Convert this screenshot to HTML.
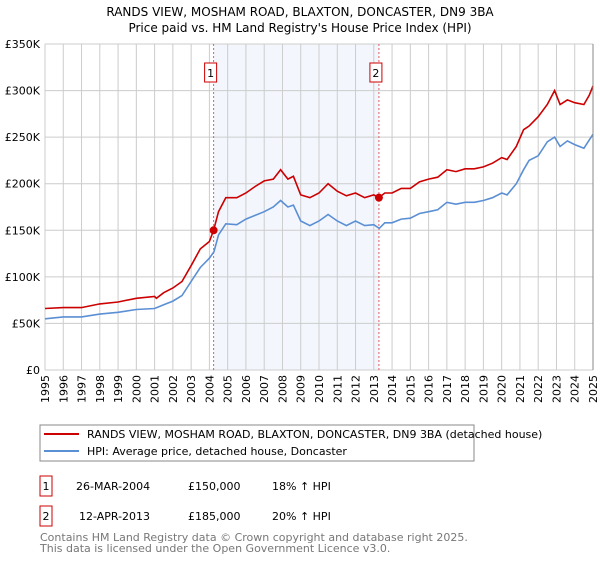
<!DOCTYPE html>
<html><head><meta charset="utf-8"><style>
body{margin:0;background:#fff;font-family:"Liberation Sans","DejaVu Sans",sans-serif;}
svg text{font-family:"DejaVu Sans","Liberation Sans",sans-serif;}
</style></head><body>
<svg width="600" height="560" viewBox="0 0 600 560">
<text x="300" y="16" text-anchor="middle" font-size="12">RANDS VIEW, MOSHAM ROAD, BLAXTON, DONCASTER, DN9 3BA</text>
<text x="300" y="32" text-anchor="middle" font-size="12">Price paid vs. HM Land Registry's House Price Index (HPI)</text>
<g id="plot"></g>
<rect x="40" y="425" width="434" height="36" fill="#fff" stroke="#888"/>
<line x1="44" y1="434" x2="79" y2="434" stroke="#cc0000" stroke-width="2"/>
<text x="87" y="438" font-size="11">RANDS VIEW, MOSHAM ROAD, BLAXTON, DONCASTER, DN9 3BA (detached house)</text>
<line x1="44" y1="451" x2="79" y2="451" stroke="#5b8fd4" stroke-width="2"/>
<text x="87" y="455" font-size="11">HPI: Average price, detached house, Doncaster</text>
<rect x="40" y="476" width="12" height="20" fill="#fff" stroke="#cc0000"/>
<text x="46" y="490" font-size="11" text-anchor="middle">1</text>
<text x="76" y="490" font-size="11">26-MAR-2004</text>
<text x="188" y="490" font-size="11">£150,000</text>
<text x="272" y="490" font-size="11">18% ↑ HPI</text>
<rect x="40" y="506" width="12" height="20" fill="#fff" stroke="#cc0000"/>
<text x="46" y="520" font-size="11" text-anchor="middle">2</text>
<text x="79" y="520" font-size="11">12-APR-2013</text>
<text x="188" y="520" font-size="11">£185,000</text>
<text x="272" y="520" font-size="11">20% ↑ HPI</text>
<text x="40" y="541" font-size="11" fill="#777">Contains HM Land Registry data © Crown copyright and database right 2025.</text>
<text x="40" y="552" font-size="11" fill="#777">This data is licensed under the Open Government Licence v3.0.</text>
</svg>
<script>
const hpiYears=[1995,1996,1997,1998,1999,2000,2001,2001.5,2002,2002.5,2003,2003.5,2004,2004.25,2004.5,2004.9,2005.5,2006,2006.5,2007,2007.5,2007.9,2008.3,2008.6,2009,2009.5,2010,2010.5,2011,2011.5,2012,2012.5,2013,2013.3,2013.6,2014,2014.5,2015,2015.5,2016,2016.5,2017,2017.5,2018,2018.5,2019,2019.5,2020,2020.3,2020.8,2021.2,2021.5,2022,2022.5,2022.9,2023.2,2023.6,2024,2024.5,2024.8,2025];
const hpiValues=[55,57,57,60,62,65,66,70,74,80,95,110,120,127,145,157,156,162,166,170,175,182,175,177,160,155,160,167,160,155,160,155,156,152,158,158,162,163,168,170,172,180,178,180,180,182,185,190,188,200,215,225,230,245,250,240,246,242,238,247,253];
const propYears=[1995,1996,1997,1998,1999,2000,2001,2001.1,2001.5,2002,2002.5,2003,2003.5,2004,2004.23,2004.5,2004.9,2005.5,2006,2006.5,2007,2007.5,2007.9,2008.3,2008.6,2009,2009.5,2010,2010.5,2011,2011.5,2012,2012.5,2013,2013.28,2013.6,2014,2014.5,2015,2015.5,2016,2016.5,2017,2017.5,2018,2018.5,2019,2019.5,2020,2020.3,2020.8,2021.2,2021.5,2022,2022.5,2022.9,2023.2,2023.6,2024,2024.5,2024.8,2025];
const propValues=[66,67,67,71,73,77,79,77,83,88,95,112,130,138,150,170,185,185,190,197,203,205,215,205,208,188,185,190,200,192,187,190,185,188,185,190,190,195,195,202,205,207,215,213,216,216,218,222,228,226,240,258,262,272,285,300,285,290,287,285,295,305];
const saleYears=[2004.23,2013.28];
const saleValues=[150,185];
const saleLabels=["1","2"];
const yTicks=[0,50,100,150,200,250,300,350];
const yTickLabels=["£0","£50K","£100K","£150K","£200K","£250K","£300K","£350K"];
const xTicks=[1995,1996,1997,1998,1999,2000,2001,2002,2003,2004,2005,2006,2007,2008,2009,2010,2011,2012,2013,2014,2015,2016,2017,2018,2019,2020,2021,2022,2023,2024,2025];

const NS="http://www.w3.org/2000/svg";
const X0=45,X1=593,Y0=370,Y1=44;
const xs=v=>X0+(v-1995)/30*(X1-X0);
const ys=v=>Y0-v/350*(Y0-Y1);
const g=document.getElementById('plot');
function mk(t,a){const e=document.createElementNS(NS,t);for(const k in a)e.setAttribute(k,a[k]);g.appendChild(e);return e;}
let sh=mk('rect',{x:xs(saleYears[0]),y:Y1,width:xs(saleYears[1])-xs(saleYears[0]),height:Y0-Y1,fill:'#eef3fc',opacity:0.7});


yTicks.forEach((t,i)=>{
 let l=mk('line',{x1:X0,x2:X1,y1:ys(t),y2:ys(t),stroke:'#ccc'});
 
 
 let tx=mk('text',{x:40,y:ys(t)+4,'text-anchor':'end','font-size':11});
 
 
 tx.textContent=yTickLabels[i];
});
xTicks.forEach(t=>{
 let l=mk('line',{x1:xs(t),x2:xs(t),y1:Y1,y2:Y0,stroke:'#ccc'});
 
 
 let tx=mk('text',{x:0,y:0,'text-anchor':'end','font-size':11,transform:`translate(${xs(t)+4},${Y0+5}) rotate(-90)`});
 
 
 tx.textContent=t;
});
saleYears.forEach((s,i)=>{
 let l=mk('line',{x1:xs(s),x2:xs(s),y1:Y1,y2:Y0,stroke:'#e06060','stroke-dasharray':'2,2'});
 
 
 let r=mk('rect',{x:xs(s)-9,y:63,width:12,height:19,fill:'#fff',stroke:'#cc0000'});
 
 
 let tx=mk('text',{x:xs(s)-3,y:77,'text-anchor':'middle','font-size':11});
 
 
 tx.textContent=saleLabels[i];
});
function path(xa,va,c,n){
 let d=xa.map((x,i)=>(i?'L':'M')+xs(x).toFixed(1)+','+ys(va[i]).toFixed(1)).join('');
 let p=mk('path',{d:d,fill:'none',stroke:c,'stroke-width':1.6});
 
 
}
path(hpiYears,hpiValues,'#5b8fd4','hpi-line');
path(propYears,propValues,'#cc0000','property-line');
saleYears.forEach((s,i)=>{
 let c=mk('circle',{cx:xs(s),cy:ys(saleValues[i]),r:4,fill:'#cc0000'});
 
 
});
let ax=mk('line',{x1:X1,x2:X1,y1:Y1,y2:Y0,stroke:'#888'});


</script>
</body></html>
